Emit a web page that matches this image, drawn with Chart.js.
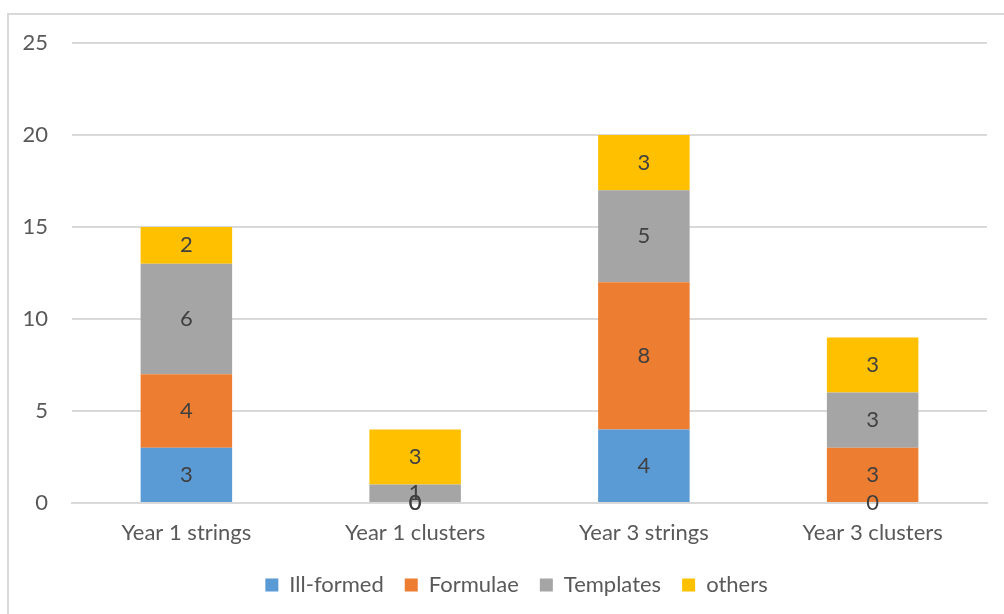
<!DOCTYPE html>
<html>
<head>
<meta charset="utf-8">
<script src="https://cdn.jsdelivr.net/npm/chart.js@4/dist/chart.umd.min.js"></script>
<style>
  html, body { margin: 0; padding: 0; background: #fff; }
  #wrap { position: relative; width: 1004px; height: 614px; overflow: hidden; }
  #frame { position: absolute; left: 7px; top: 13px; width: 1010px; height: 620px;
           border: 2px solid #D9D9D9; box-sizing: border-box; }
  canvas { position: absolute; left: 0; top: 0; }
</style>
</head>
<body>
<div id="wrap">
  <div id="frame"></div>
  <canvas id="c" width="1004" height="614"></canvas>
</div>
<script>
const categories = ["Year 1 strings", "Year 1 clusters", "Year 3 strings", "Year 3 clusters"];
const illFormed = [3, 0, 4, 0];
const formulae  = [4, 0, 8, 3];
const templates = [6, 1, 5, 3];
const others    = [2, 3, 3, 3];
const yTicks = [0, 5, 10, 15, 20, 25];

const FONT = "Lato, 'Open Sans', sans-serif";
const FS = 22;

// Writes each segment's value in the middle of its bar piece
const valueLabels = {
  id: 'valueLabels',
  afterDatasetsDraw(chart) {
    const ctx = chart.ctx;
    ctx.save();
    ctx.font = FS + "px " + FONT;
    ctx.fillStyle = "#404040";
    ctx.textAlign = "center";
    ctx.textBaseline = "middle";
    chart.data.datasets.forEach((ds, di) => {
      const meta = chart.getDatasetMeta(di);
      meta.data.forEach((bar, i) => {
        const v = ds.data[i];
        if (v === null || v === undefined) return;
        const y = (bar.y + bar.base) / 2;
        ctx.fillText(String(v), bar.x, y);
      });
    });
    ctx.restore();
  }
};

// Centres the legend under the plot area rather than the whole canvas
const legendUnderPlot = {
  id: 'legendUnderPlot',
  afterLayout(chart) {
    const lg = chart.legend;
    if (!lg) return;
    const shift = 23;
    lg.left += shift;
    lg.right += shift;
  }
};

new Chart(document.getElementById('c'), {
  type: 'bar',
  data: {
    labels: categories,
    datasets: [
      { label: 'Ill-formed', data: illFormed, backgroundColor: '#5B9BD5' },
      { label: 'Formulae',   data: formulae,  backgroundColor: '#ED7D31' },
      { label: 'Templates',  data: templates, backgroundColor: '#A5A5A5' },
      { label: 'others',     data: others,    backgroundColor: '#FFC000' }
    ]
  },
  options: {
    responsive: false,
    animation: false,
    devicePixelRatio: 1,
    layout: { padding: { left: 0, right: 17, top: 43, bottom: 8 } },
    datasets: { bar: { categoryPercentage: 0.4, barPercentage: 1.0 } },
    scales: {
      x: {
        stacked: true,
        grid: { display: false, drawTicks: false },
        border: { color: '#D9D9D9', width: 2 },
        ticks: { color: '#595959', font: { family: FONT, size: FS }, padding: 17 },
        afterFit(s) { s.height = 50; }
      },
      y: {
        stacked: true,
        min: 0, max: 25,
        afterBuildTicks(s) { s.ticks = yTicks.map(v => ({ value: v })); },
        grid: { color: '#D9D9D9', lineWidth: 2, drawTicks: false },
        border: { display: false },
        ticks: { color: '#595959', font: { family: FONT, size: FS }, padding: 24 },
        afterFit(s) { s.width = 72; }
      }
    },
    plugins: {
      legend: {
        position: 'bottom',
        labels: {
          color: '#595959',
          font: { family: FONT, size: FS },
          boxWidth: 13, boxHeight: 13,
          padding: 21
        }
      },
      tooltip: { enabled: false }
    }
  },
  plugins: [valueLabels, legendUnderPlot]
});
</script>
</body>
</html>
